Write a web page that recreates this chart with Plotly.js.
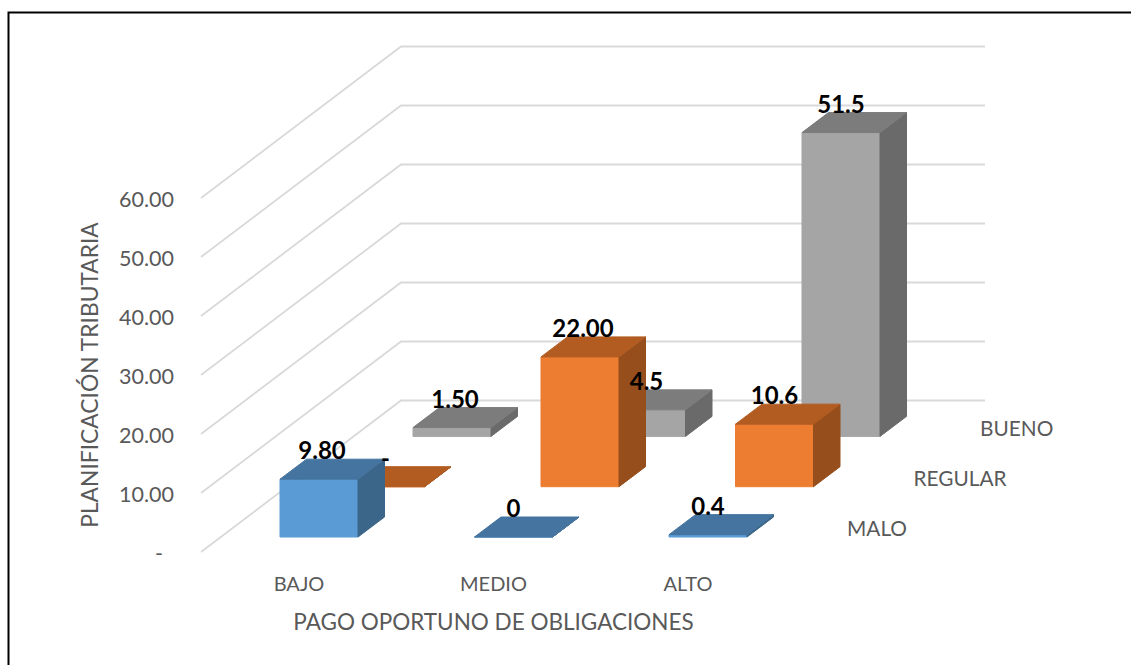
<!DOCTYPE html>
<html><head><meta charset="utf-8">
<script src="https://cdn.plot.ly/plotly-3.0.1.min.js"></script>
<style>html,body{margin:0;padding:0;background:#fff}#c{width:1131px;height:665px}</style>
</head><body><div id="c"></div>
<script>
const categories = ['BAJO','MEDIO','ALTO'];
const seriesNames = ['MALO','REGULAR','BUENO'];
const malo = [9.8, 0, 0.4];
const regular = [0, 22, 10.6];
const bueno = [1.5, 4.5, 51.5];
const maloLabels = ['9.80','0','0.4'];
const regularLabels = ['-','22.00','10.6'];
const buenoLabels = ['1.50','4.5','51.5'];
const yTicks = [0,10,20,30,40,50,60];
const yTickText = ['-\u00a0\u00a0','10.00','20.00','30.00','40.00','50.00','60.00'];

// oblique projection constants, in axis units
const PXX = 194.5, PXY = 5.9;             // pixels per category / per value unit
const barW = 78/PXX, barDX = 26.5/PXX, barDY = 20/PXY;
const rowDX = 66.5/PXX, rowDY = 50.3/PXY;
const barOffset = -19/PXX, floorY = 15/PXY; // front-left of first row relative to tick
const wallX0 = -98/PXX, wallDX = 200/PXX, wallDY = 151.5/PXY, wallEnd = 686/PXX;
const labelLift = 26/PXY, wideLabelNudge = 3/PXX;

const traces = [];
const common = {xaxis:'x2',yaxis:'y2',hoverinfo:'skip',showlegend:false};
function face(xs, ys, color){
  traces.push({type:'scatter',mode:'lines',x:xs.concat(xs[0]),y:ys.concat(ys[0]),fill:'toself',fillcolor:color,
    line:{color:color,width:1},...common});
}
// axis carrier (ticks and titles live on the x/y pair)
traces.push({type:'scatter',mode:'markers',x:[0,1,2],y:[0,0,0],marker:{opacity:0},hoverinfo:'skip',showlegend:false});
// walls grid
yTicks.forEach(v=>{
  traces.push({type:'scatter',mode:'lines',
    x:[wallX0,wallX0+wallDX,wallEnd],
    y:[v,v+wallDY,v+wallDY],
    line:{color:'#d9d9d9',width:1.8},...common});
});
const rows = [
  {vals:malo,labels:maloLabels,front:'#5B9BD5',top:'#44749F',side:'#3B6689'},
  {vals:regular,labels:regularLabels,front:'#ED7D31',top:'#B25C22',side:'#964F1C'},
  {vals:bueno,labels:buenoLabels,front:'#A5A5A5',top:'#7C7C7C',side:'#6A6A6A'}
];
const tx=[],ty=[],tt=[];
for(let r=2;r>=0;r--){
  const row=rows[r];
  row.vals.forEach((v,i)=>{
    const x0=i+barOffset+r*rowDX, x1=x0+barW;
    const b=floorY+r*rowDY, t=b+v;
    face([x0,x1,x1,x0],[b,b,t,t],row.front);
    face([x1,x1+barDX,x1+barDX,x1],[b,b+barDY,t+barDY,t],row.side);
    face([x0,x1,x1+barDX,x0+barDX],[t,t,t+barDY,t+barDY],row.top);
    const wide = row.labels[i].length>=4 && row.labels[i]!=='10.6' && row.labels[i]!=='51.5';
    tx.push((x0+x1)/2+(wide?wideLabelNudge:0)); ty.push(t+labelLift); tt.push(row.labels[i]);
  });
}
traces.push({type:'scatter',mode:'text',x:tx,y:ty,text:tt,textposition:'middle center',
  textfont:{family:'Lato, sans-serif',size:24,color:'#000',weight:700},...common});
// depth axis labels
traces.push({type:'scatter',mode:'text',
  x:seriesNames.map((_,r)=>2+159/PXX+r*rowDX),
  y:seriesNames.map((_,r)=>floorY+r*rowDY+6/PXY),
  text:seriesNames,textposition:'middle right',
  textfont:{family:'Lato, sans-serif',size:20.8,color:'#595959'},...common});

const L=178, W=953, H=570;
const layout = {
  width:1131,height:665,paper_bgcolor:'#fff',plot_bgcolor:'rgba(0,0,0,0)',showlegend:false,
  margin:{l:L,r:0,t:0,b:95,pad:0},
  font:{family:'Lato, sans-serif',color:'#595959'},
  xaxis:{domain:[0,631/W],range:[-121/PXX,510/PXX],tickmode:'array',tickvals:[0,1,2],ticktext:categories,showgrid:false,zeroline:false,showline:false,
    ticks:'',tickfont:{size:20,color:'#595959'},
    title:{text:'PAGO OPORTUNO DE OBLIGACIONES',font:{size:22.5,color:'#595959'},standoff:20}},
  yaxis:{domain:[0,390/H],range:[-16.5/PXY,373.5/PXY],tickmode:'array',tickvals:yTicks,ticktext:yTickText,showgrid:false,zeroline:false,showline:false,
    ticks:'',ticklabelstandoff:3,tickfont:{size:21.5,color:'#595959'},
    title:{text:'PLANIFICACIÓN TRIBUTARIA',font:{size:22.8,color:'#595959'},standoff:14}},
  xaxis2:{domain:[0,1],range:[-121/PXX,832/PXX],anchor:'y2',visible:false},
  yaxis2:{domain:[0,1],range:[-18/PXY,552/PXY],anchor:'x2',visible:false},
  shapes:[{type:'path',xref:'paper',yref:'paper',
    path:'M '+((8.5-L)/W)+' -0.3 L '+((8.5-L)/W)+' '+(1-12.5/H)+' L 1.1 '+(1-12.5/H),
    line:{color:'#000',width:2}}]
};
Plotly.newPlot('c',traces,layout,{displayModeBar:false,staticPlot:true});
</script></body></html>
